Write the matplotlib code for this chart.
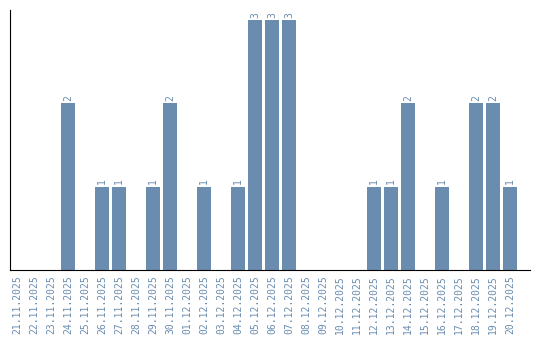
import matplotlib
matplotlib.use("Agg")
import matplotlib.pyplot as plt

dates = ["21.11.2025", "22.11.2025", "23.11.2025", "24.11.2025", "25.11.2025",
         "26.11.2025", "27.11.2025", "28.11.2025", "29.11.2025", "30.11.2025",
         "01.12.2025", "02.12.2025", "03.12.2025", "04.12.2025", "05.12.2025",
         "06.12.2025", "07.12.2025", "08.12.2025", "09.12.2025", "10.12.2025",
         "11.12.2025", "12.12.2025", "13.12.2025", "14.12.2025", "15.12.2025",
         "16.12.2025", "17.12.2025", "18.12.2025", "19.12.2025", "20.12.2025"]
counts = [0, 0, 0, 2, 0, 1, 1, 0, 1, 2,
          0, 1, 0, 1, 3, 3, 3, 0, 0, 0,
          0, 1, 1, 2, 0, 1, 0, 2, 2, 1]

color = "#6a8caf"

fig = plt.figure(figsize=(5.4, 3.4), dpi=100)
ax = fig.add_axes([10/540, 70/340, 520/540, 260/340])

x = list(range(len(dates)))
ax.bar(x, counts, width=0.82, color=color)

# value labels above bars
for xi, c in zip(x, counts):
    if c > 0:
        ax.text(xi, c + 0.03, str(c), rotation=90, ha="center", va="bottom",
                fontsize=7, color=color, family="DejaVu Sans Mono")

ax.set_xlim(-0.41, 30.18)
ax.set_ylim(0, 3.12)
ax.set_xticks(x)
ax.set_xticklabels(dates, rotation=90, fontsize=7, color=color, family="DejaVu Sans Mono")
ax.tick_params(axis="x", length=0, pad=4)
ax.set_yticks([])
ax.spines["top"].set_visible(False)
ax.spines["right"].set_visible(False)

plt.savefig("out.png", dpi=100)
